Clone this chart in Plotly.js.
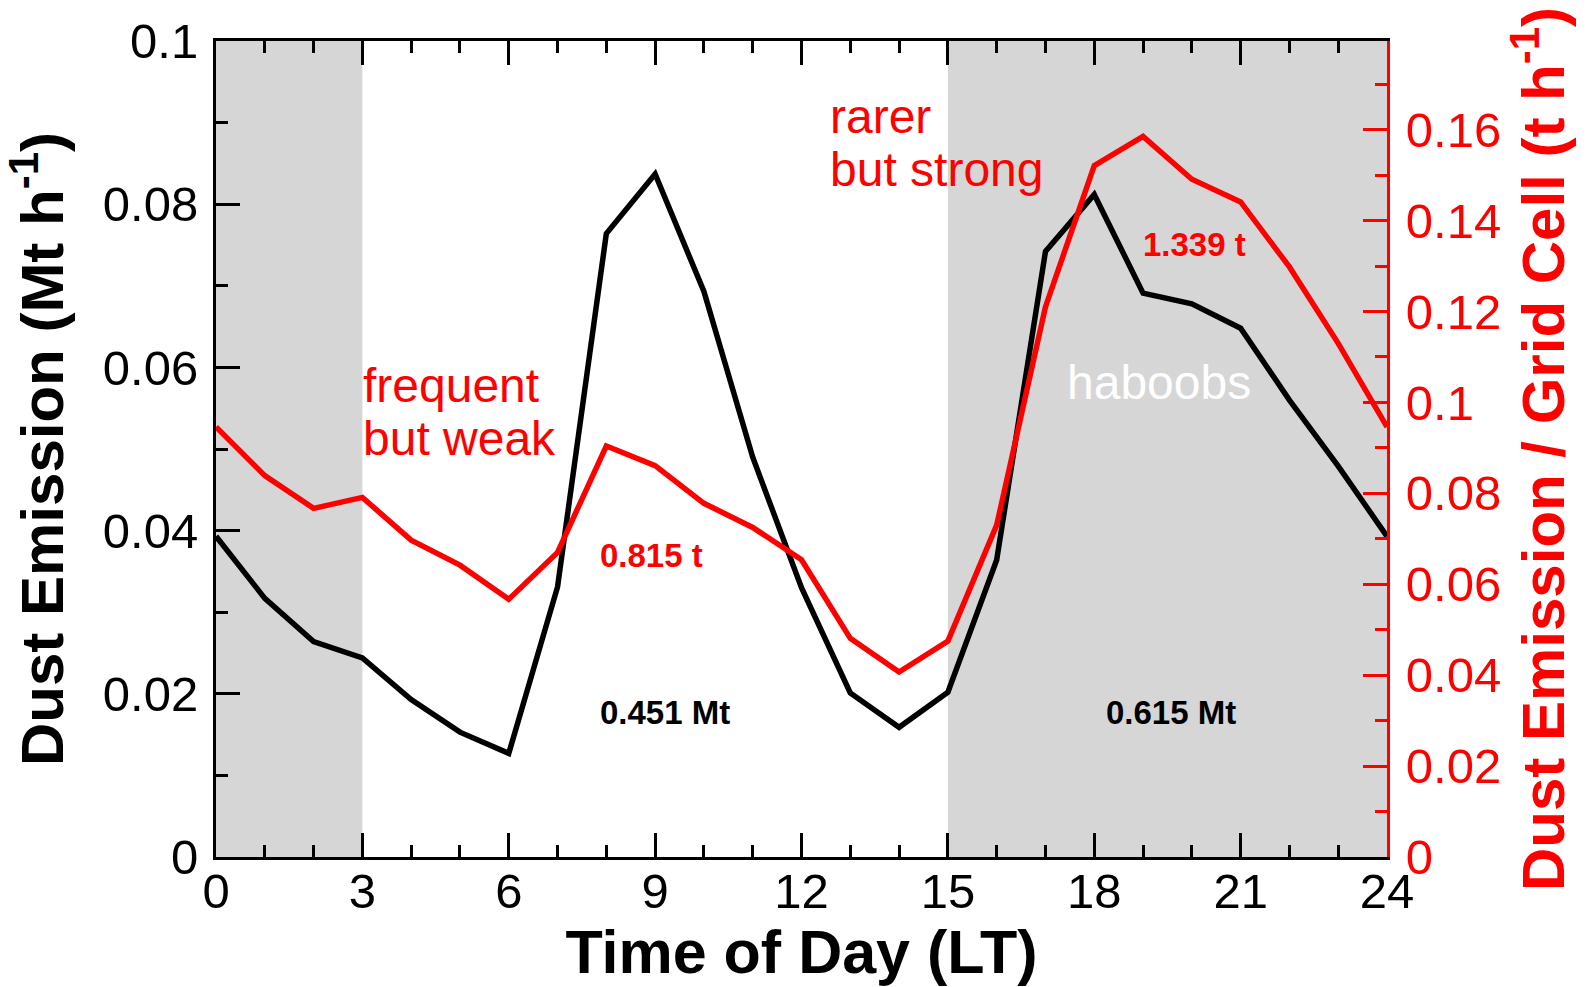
<!DOCTYPE html>
<html>
<head>
<meta charset="utf-8">
<script src="https://cdn.plot.ly/plotly-3.0.1.min.js"></script>
<style>html,body{margin:0;padding:0;background:#fff;}#chart{width:1588px;height:987px;}</style>
</head>
<body>
<div id="chart"></div>
<script>
// Hour of day (LT)
const hours = [0,1,2,3,4,5,6,7,8,9,10,11,12,13,14,15,16,17,18,19,20,21,22,23,24];
// Total dust emission (Mt h-1), left axis
const totalEmission = [0.0393,0.0317,0.0264,0.0244,0.0193,0.0153,0.0127,0.0331,0.0764,0.0837,0.0693,0.0490,0.0330,0.0201,0.0159,0.0202,0.0364,0.0742,0.0812,0.0691,0.0678,0.0648,0.0560,0.0479,0.0393];
// Dust emission per grid cell (t h-1), right axis
const perCellEmission = [0.0946,0.0839,0.0767,0.0791,0.0697,0.0642,0.0567,0.0670,0.0904,0.0861,0.0778,0.0725,0.0654,0.0481,0.0407,0.0475,0.0730,0.1210,0.1521,0.1585,0.1491,0.1441,0.1298,0.1130,0.0946];
// Shaded (night / haboob) periods in hours
const shadeStart = [0, 15];
const shadeEnd = [3, 24];
// Tick labels
const xTicks = [0,3,6,9,12,15,18,21,24];
const yLeftTicks = [0,0.02,0.04,0.06,0.08,0.1];
const yRightTicks = [0,0.02,0.04,0.06,0.08,0.1,0.12,0.14,0.16];

const FONT = '"Liberation Sans", Arial, Helvetica, sans-serif';

const traces = [
  {x: hours, y: totalEmission, type: 'scatter', mode: 'lines', name: 'Total',
   line: {color: '#000000', width: 5.5}, yaxis: 'y', hoverinfo: 'skip'},
  {x: hours, y: perCellEmission, type: 'scatter', mode: 'lines', name: 'Per grid cell',
   line: {color: '#ff0000', width: 5.5}, yaxis: 'y2', hoverinfo: 'skip'}
];

const shapes = shadeStart.map((s, i) => ({
  type: 'rect', xref: 'x', yref: 'paper', x0: s, x1: shadeEnd[i], y0: 0, y1: 1,
  fillcolor: '#d6d6d6', line: {width: 0}, layer: 'below'
}));

function ann(text, x, y, color, size, bold) {
  return {text: bold ? '<b>' + text + '</b>' : text, x: x, y: y, xref: 'x', yref: 'y',
    xanchor: 'left', yanchor: 'middle', showarrow: false,
    font: {family: FONT, size: size, color: color}};
}

const annotations = [
  ann('frequent', 2.98, 0.0578, '#ff0000', 48, false),
  ann('but weak', 2.98, 0.0513, '#ff0000', 48, false),
  ann('rarer', 12.55, 0.0907, '#ff0000', 48, false),
  ann('but strong', 12.55, 0.0843, '#ff0000', 48, false),
  ann('haboobs', 17.41, 0.0581, '#ffffff', 48, false),
  ann('0.815 t', 7.82, 0.0370, '#ff0000', 33, true),
  ann('0.451 Mt', 7.82, 0.0177, '#000000', 33, true),
  ann('0.615 Mt', 18.2, 0.0177, '#000000', 33, true),
  ann('1.339 t', 18.96, 0.0751, '#ff0000', 33, true)
];

const layout = {
  width: 1588, height: 987,
  margin: {l: 216, r: 201, t: 41, b: 130, pad: 0},
  paper_bgcolor: '#ffffff', plot_bgcolor: '#ffffff',
  showlegend: false,
  font: {family: FONT, color: '#000000'},
  xaxis: {
    range: [0, 24], tickmode: 'array', tickvals: xTicks, ticktext: xTicks.map(String),
    ticks: 'inside', ticklen: 24, tickwidth: 3, tickcolor: '#000000',
    showline: true, linecolor: '#000000', linewidth: 3, mirror: 'ticks',
    showgrid: false, zeroline: false,
    minor: {tickmode: 'linear', tick0: 0, dtick: 1, ticks: 'inside', ticklen: 12, tickwidth: 3, tickcolor: '#000000', showgrid: false},
    tickfont: {family: FONT, size: 49, color: '#000000'},
    ticklabelstandoff: -11,
    title: {text: '<b>Time of Day (LT)</b>', font: {family: FONT, size: 61, color: '#000000'}, standoff: 12}
  },
  yaxis: {
    range: [0, 0.1], tickmode: 'array', tickvals: yLeftTicks, ticktext: yLeftTicks.map(String),
    ticks: 'inside', ticklen: 24, tickwidth: 3, tickcolor: '#000000',
    showline: true, linecolor: '#000000', linewidth: 3, mirror: false,
    showgrid: false, zeroline: false,
    minor: {tickmode: 'linear', tick0: 0, dtick: 0.01, ticks: 'inside', ticklen: 12, tickwidth: 3, tickcolor: '#000000', showgrid: false},
    tickfont: {family: FONT, size: 49, color: '#000000'},
    ticklabelstandoff: 5,
    title: {text: '<b>Dust Emission (Mt h<sup>-1</sup>)</b>', font: {family: FONT, size: 60, color: '#000000'}, standoff: 24}
  },
  yaxis2: {
    overlaying: 'y', side: 'right', range: [0, 0.1795],
    tickmode: 'array', tickvals: yRightTicks, ticktext: yRightTicks.map(String),
    ticks: 'inside', ticklen: 24, tickwidth: 3, tickcolor: '#ff0000',
    showline: true, linecolor: '#ff0000', linewidth: 3, mirror: false,
    showgrid: false, zeroline: false,
    minor: {tickmode: 'linear', tick0: 0, dtick: 0.01, ticks: 'inside', ticklen: 12, tickwidth: 3, tickcolor: '#ff0000', showgrid: false},
    tickfont: {family: FONT, size: 49, color: '#ff0000'},
    ticklabelstandoff: 6,
    title: {text: '<b>Dust Emission / Grid Cell (t h<sup>-1</sup>)</b>', font: {family: FONT, size: 60, color: '#ff0000'}, standoff: 12}
  },
  shapes: shapes,
  annotations: annotations
};

Plotly.newPlot('chart', traces, layout, {displayModeBar: false, staticPlot: true});
</script>
</body>
</html>
